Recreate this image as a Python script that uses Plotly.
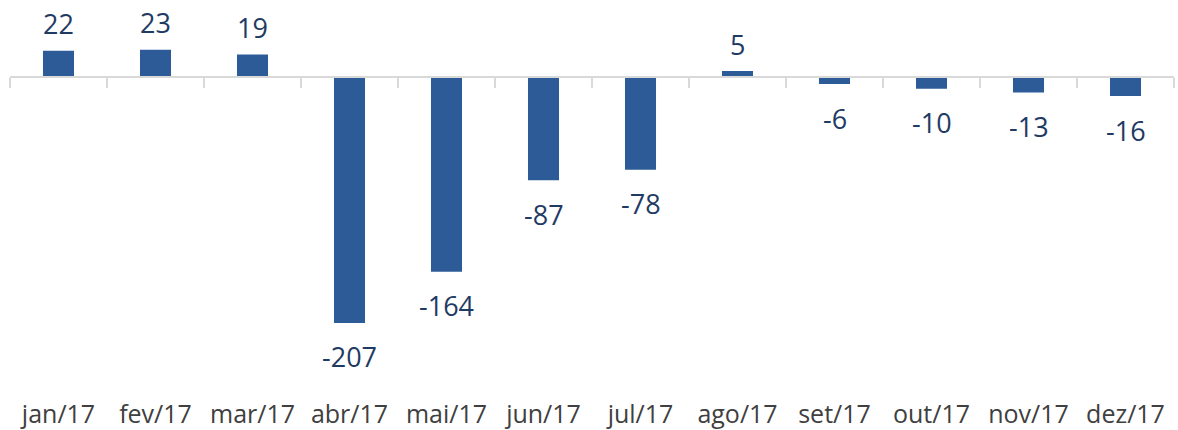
import plotly.graph_objects as go

months = ["jan/17", "fev/17", "mar/17", "abr/17", "mai/17", "jun/17",
          "jul/17", "ago/17", "set/17", "out/17", "nov/17", "dez/17"]
values = [22, 23, 19, -207, -164, -87, -78, 5, -6, -10, -13, -16]

bar_color = "#2D5B97"
label_color = "#1F3B64"
font_family = "Open Sans, Noto Sans, sans-serif"

y_min, y_max = -267.7, 60.6

fig = go.Figure()
fig.add_trace(go.Bar(
    x=list(range(len(months))),
    y=values,
    width=0.32,
    marker=dict(color=bar_color, line=dict(width=0)),
    hoverinfo="skip",
))

# value labels, offset outward from the end of each bar
for i, v in enumerate(values):
    fig.add_annotation(
        x=i, y=v, text=str(v), showarrow=False,
        yanchor="middle", yshift=27 if v >= 0 else -34,
        font=dict(size=27, color=label_color, family=font_family),
    )

# zero line with tick marks between categories, drawn on an overlay axis
zero_pos = (0 - y_min) / (y_max - y_min)
fig.add_trace(go.Scatter(x=[0], y=[0], xaxis="x2", mode="markers",
                         marker=dict(opacity=0), hoverinfo="skip"))

fig.update_layout(
    width=1178, height=430,
    margin=dict(l=10, r=4, t=5, b=35, autoexpand=False),
    plot_bgcolor="white", paper_bgcolor="white",
    showlegend=False,
    xaxis=dict(
        range=[-0.5, len(months) - 0.5],
        tickmode="array",
        tickvals=list(range(len(months))), ticktext=months,
        showline=False, showgrid=False, zeroline=False, ticks="",
        automargin=False, ticklabelstandoff=2,
        tickfont=dict(size=25, color="#404040", family=font_family),
    ),
    xaxis2=dict(
        overlaying="x", anchor="free", position=zero_pos,
        range=[-0.5, len(months) - 0.5],
        tickmode="array",
        tickvals=[i - 0.5 for i in range(len(months) + 1)],
        showticklabels=False, ticks="outside", ticklen=10, tickwidth=1.5,
        tickcolor="#D9D9D9", showline=True, linecolor="#D9D9D9", linewidth=1.5,
        showgrid=False, zeroline=False, automargin=False,
    ),
    yaxis=dict(range=[y_min, y_max], visible=False, showgrid=False,
               zeroline=False, automargin=False),
)

# drop the browser's default body margin so the figure sits at the corner
fig.write_html("out.html", config={"displayModeBar": False},
               post_script="document.body.style.margin='0';")
